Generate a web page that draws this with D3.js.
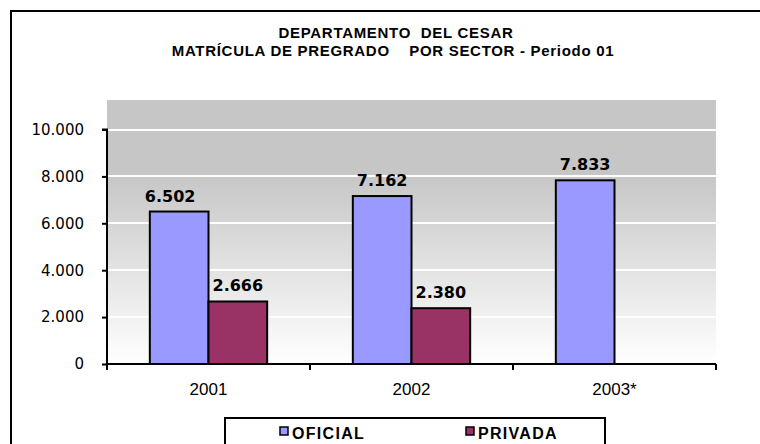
<!DOCTYPE html>
<meta charset="utf-8">
<style>
body { margin: 0; background: #fff; }
svg text { white-space: pre; }
.title { font: bold 15px "Liberation Sans", Arial, sans-serif; fill: #000; letter-spacing: 0.7px; }
.ytick { font: 15px "DejaVu Sans", Verdana, sans-serif; fill: #000; }
.xtick { font: 17px "Liberation Sans Narrow", "Liberation Sans", Arial, sans-serif; fill: #000; }
.lbl { font: bold 16px "DejaVu Sans", Verdana, sans-serif; fill: #000; }
.leg { font: bold 16px "Liberation Sans", Arial, sans-serif; fill: #000; letter-spacing: 1.3px; }
</style>
<svg width="760" height="444"></svg>
<script src="https://d3js.org/d3.v7.min.js"></script>
<script>

var years = ["2001", "2002", "2003*"]
var series = ["OFICIAL", "PRIVADA"]
var oficial = [6502, 7162, 7833]
var privada = [2666, 2380, null]
var yTicks = [0, 2000, 4000, 6000, 8000, 10000]
var colors = ["#9999ff", "#993366"]

var svg = d3.select("svg")

// outer chart frame
svg.append("path").attr("d", "M11,444V11H760").attr("fill", "none").attr("stroke", "#000").attr("stroke-width", 2)

svg.append("text").attr("class", "title").attr("x", 396).attr("y", 38).attr("text-anchor", "middle")
  .text("DEPARTAMENTO  DEL CESAR")
svg.append("text").attr("class", "title").attr("x", 393).attr("y", 56).attr("text-anchor", "middle")
  .text("MATRÍCULA DE PREGRADO    POR SECTOR - Periodo 01")

var plotL = 107, plotR = 716, plotT = 100, plotB = 364

var y = d3.scaleLinear().domain([0, 10000]).range([plotB, 129.5])
var x = d3.scaleBand().domain(years).range([plotL, plotR])
var inner = d3.scaleBand().domain(series).range([0, x.bandwidth()]).paddingInner(0).paddingOuter(0.73)

// plot background gradient
var grad = svg.append("defs").append("linearGradient").attr("id", "bg")
  .attr("x1", 0).attr("y1", 0).attr("x2", 0).attr("y2", 1)
grad.append("stop").attr("offset", "0%").attr("stop-color", "#c6c6c6")
grad.append("stop").attr("offset", "28%").attr("stop-color", "#c6c6c6")
grad.append("stop").attr("offset", "100%").attr("stop-color", "#ffffff")

svg.append("rect").attr("x", plotL).attr("y", plotT).attr("width", plotR - plotL).attr("height", plotB - plotT)
  .attr("fill", "url(#bg)")

svg.selectAll(".grid").data(yTicks.slice(1)).enter().append("line")
  .attr("x1", plotL).attr("x2", plotR)
  .attr("y1", function(d){ return Math.round(y(d)) }).attr("y2", function(d){ return Math.round(y(d)) })
  .attr("stroke", "#fff").attr("stroke-width", 2)

var data = [oficial, privada]
var labelShift = [[-9, 0, 0], [0, 0, 0]]

series.forEach(function(s, si){
  var vals = data[si].map(function(v, i){ return {v: v, year: years[i], i: i} }).filter(function(d){ return d.v != null })
  svg.selectAll(".bar" + si).data(vals).enter().append("rect")
    .attr("x", function(d){ return x(d.year) + inner(s) })
    .attr("y", function(d){ return y(d.v) })
    .attr("width", inner.bandwidth())
    .attr("height", function(d){ return plotB - y(d.v) })
    .attr("fill", colors[si]).attr("stroke", "#000").attr("stroke-width", 2)

  svg.selectAll(".lbl" + si).data(vals).enter().append("text").attr("class", "lbl")
    .attr("x", function(d){ return x(d.year) + inner(s) + inner.bandwidth() / 2 + labelShift[si][d.i] })
    .attr("y", function(d){ return y(d.v) - 10 })
    .attr("text-anchor", "middle")
    .text(function(d){ return d3.format(",")(d.v).replace(/,/g, ".") })
})

// y axis
var yAxis = d3.axisLeft(y).tickValues(yTicks).tickSize(5).tickPadding(18)
  .tickFormat(function(d){ return d3.format(",")(d).replace(/,/g, ".") })
var gy = svg.append("g").attr("transform", "translate(" + plotL + ",0)").call(yAxis)
gy.select(".domain").attr("stroke-width", 2).attr("d", "M-5," + y(10000) + "H0V" + plotB)
gy.selectAll("line").attr("stroke-width", 2)
gy.selectAll("text").attr("class", "ytick").attr("font-family", null).attr("font-size", null)

// x axis with ticks at category boundaries
svg.append("line").attr("x1", plotL).attr("x2", plotR).attr("y1", plotB).attr("y2", plotB)
  .attr("stroke", "#000").attr("stroke-width", 2)
var bounds = years.map(function(d){ return x(d) }).concat([plotR])
svg.selectAll(".xt").data(bounds).enter().append("line")
  .attr("x1", function(d){ return d }).attr("x2", function(d){ return d })
  .attr("y1", plotB).attr("y2", plotB + 6).attr("stroke", "#000").attr("stroke-width", 2)
svg.selectAll(".xl").data(years).enter().append("text").attr("class", "xtick")
  .attr("x", function(d){ return x(d) + x.bandwidth() / 2 }).attr("y", 395)
  .attr("text-anchor", "middle").text(function(d){ return d })

// legend
svg.append("rect").attr("x", 225).attr("y", 418).attr("width", 380).attr("height", 40)
  .attr("fill", "#fff").attr("stroke", "#000").attr("stroke-width", 2)
var legX = [280, 466]
series.forEach(function(s, i){
  svg.append("rect").attr("x", legX[i]).attr("y", 427).attr("width", 8).attr("height", 8)
    .attr("fill", colors[i]).attr("stroke", "#000").attr("stroke-width", 1.5)
  svg.append("text").attr("class", "leg").attr("x", legX[i] + 12).attr("y", 439).text(s)
})

</script>
